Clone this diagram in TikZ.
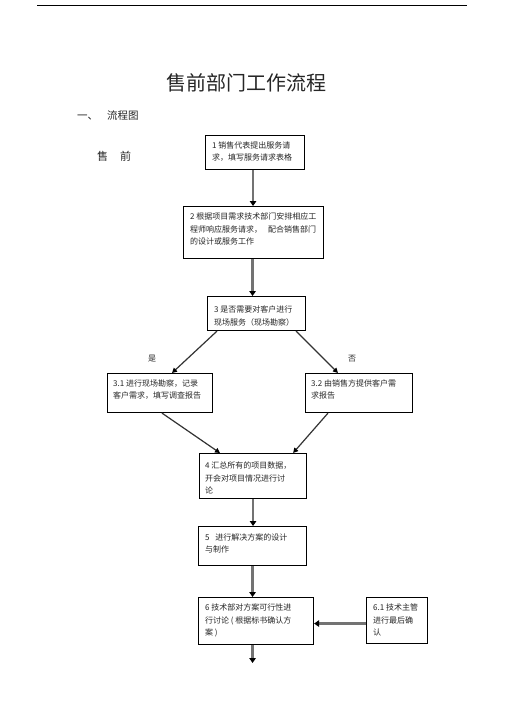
\documentclass[tikz,border=0pt]{standalone}
\usepackage{fontspec}
\newfontfamily\cjk{Noto Sans CJK SC}
\usetikzlibrary{arrows.meta,calc}
\begin{document}
\begin{tikzpicture}[x=1pt,y=-1pt,
  box/.style={draw=black, line width=1.1pt, anchor=north west, inner sep=0pt},
  txt/.style={anchor=north west, inner sep=0pt, align=left, text=black!85,
              font=\cjk\fontsize{8}{12.5}\selectfont},
  lbl/.style={inner sep=0pt, text=black!85, font=\cjk\fontsize{8}{10}\selectfont},
  varr/.style={draw=black!55, line width=2.4pt, -{Triangle[color=black,length=5pt,width=6.5pt]}},
  darr/.style={draw=black!80, line width=1.2pt, -{Triangle[color=black,length=5pt,width=5pt]}}]
\useasboundingbox (0,0) rectangle (505,714);
\fill[white] (0,0) rectangle (505,714);

% top rule
\coordinate (rl) at (37,6);
\coordinate (rr) at (467,6);
\draw[line width=1pt] (rl) -- (rr);

% headings
\node[inner sep=0pt, text=black!85, font=\cjk\fontsize{20}{24}\selectfont] (title) at (246,83) {售前部门工作流程};
\node[anchor=west, inner sep=0pt, text=black!85, font=\cjk\fontsize{10.5}{12}\selectfont] (sec) at (77,116) {一、\hspace{9pt}流程图};
\node[anchor=west, inner sep=0pt, text=black!85, font=\cjk\fontsize{11}{12}\selectfont] (side) at (97,156) {售\hspace{12pt}前};

% boxes
\node[box, minimum width=99pt, minimum height=34pt] (b1) at (205,135) {};
\node[txt] (t1) at ($(b1.north west)+(7,6.5)$) {1 销售代表提出服务请\\求，填写服务请求表格};

\node[box, minimum width=140pt, minimum height=52pt] (b2) at (183,206) {};
\node[txt] (t2) at ($(b2.north west)+(7,7)$) {2 根据项目需求技术部门安排相应工\\程师响应服务请求，\hspace{6pt}配合销售部门\\的设计或服务工作};

\node[box, minimum width=98pt, minimum height=34pt] (b3) at (207,296) {};
\node[txt] (t3) at ($(b3.north west)+(7,10)$) {3 是否需要对客户进行\\现场服务（现场勘察）};

\node[box, minimum width=105pt, minimum height=39pt] (b31) at (107,373) {};
\node[txt] (t31) at ($(b31.north west)+(6,6.5)$) {3.1 进行现场勘察，记录\\客户需求，填写调查报告};

\node[box, minimum width=107pt, minimum height=39pt] (b32) at (305,373) {};
\node[txt] (t32) at ($(b32.north west)+(6,6.5)$) {3.2 由销售方提供客户需\\求报告};

\node[box, minimum width=107pt, minimum height=45pt] (b4) at (199,453) {};
\node[txt] (t4) at ($(b4.north west)+(6,9)$) {4 汇总所有的项目数据，\\开会对项目情况进行讨\\论};

\node[box, minimum width=108pt, minimum height=39pt] (b5) at (198,526) {};
\node[txt] (t5) at ($(b5.north west)+(7,7.5)$) {5\hspace{4pt} 进行解决方案的设计\\与制作};

\node[box, minimum width=115pt, minimum height=47pt] (b6) at (198,597) {};
\node[txt] (t6) at ($(b6.north west)+(7,7)$) {6 技术部对方案可行性进\\行讨论 ( 根据标书确认方\\案 )};

\node[box, minimum width=61pt, minimum height=46pt] (b61) at (366,597) {};
\node[txt] (t61) at ($(b61.north west)+(7,7)$) {6.1 技术主管\\进行最后确\\认};

% branch labels
\node[lbl] (yes) at (152,359) {是};
\node[lbl] (no) at (352,359) {否};

% vertical connectors
\draw[varr] ([xshift=-2pt]b1.south) -- ([xshift=-2pt]b1.south |- b2.north);
\draw[varr] ([xshift=-1pt]b2.south) -- ([xshift=-1pt]b2.south |- b3.north);
\draw[varr] (b4.south) -- (b4.south |- b5.north);
\draw[varr] (b5.south) -- (b5.south |- b6.north);
\coordinate (end) at (b5.south |- 0,663);
\draw[varr] (b5.south |- b6.south) -- (end);
\draw[varr] ([yshift=-3pt]b61.west) -- ([yshift=-3pt]b61.west -| b6.east);

% diagonal connectors
\draw[darr] ([xshift=10pt]b3.south west) -- ([xshift=65pt]b31.north west);
\draw[darr] ([xshift=-10pt]b3.south east) -- ([xshift=33pt]b32.north west);
\draw[darr] ([xshift=55pt]b31.south west) -- ([xshift=21pt]b4.north west);
\draw[darr] ([xshift=23pt]b32.south west) -- ([xshift=-14pt]b4.north east);
\end{tikzpicture}
\end{document}
